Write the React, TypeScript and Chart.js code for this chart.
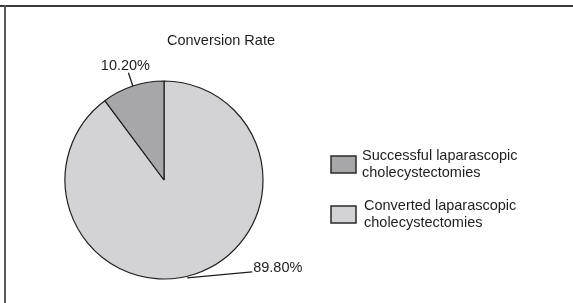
import React, { useEffect, useRef } from 'react';
import { Chart, registerables } from 'chart.js';

Chart.register(...registerables);

const title = 'Conversion Rate';
const categories = ['Converted laparascopic cholecystectomies', 'Successful laparascopic cholecystectomies'];
const values = [89.8, 10.2];
const valueLabels = ['89.80%', '10.20%'];
const legendOrder = [1, 0];
const legendLines = [
  ['Converted laparascopic', 'cholecystectomies'],
  ['Successful laparascopic', 'cholecystectomies'],
];
const sliceColors = ['#d3d3d5', '#a7a7aa'];

const FONT = '14.5px "Liberation Sans", Arial, sans-serif';
const TEXT = '#1e1e1e';

const overlay = {
  id: 'overlay',
  afterDraw(chart: any) {
    const ctx = chart.ctx as CanvasRenderingContext2D;
    ctx.save();
    // frame (top + left)
    ctx.fillStyle = '#3a3a3a';
    ctx.fillRect(0, 5, chart.width, 2);
    ctx.fillStyle = '#5a5a5a';
    ctx.fillRect(4, 5, 2, chart.height - 5);

    // title
    ctx.font = FONT;
    ctx.fillStyle = TEXT;
    ctx.textAlign = 'center';
    ctx.textBaseline = 'middle';
    ctx.fillText(title, 221, 41);

    // value labels with leader lines
    const meta = chart.getDatasetMeta(0);
    meta.data.forEach((arc: any, i: number) => {
      const { x, y, startAngle, endAngle, outerRadius } = arc.getProps(['x', 'y', 'startAngle', 'endAngle', 'outerRadius'], true);
      const mid = (startAngle + endAngle) / 2;
      const sx = x + Math.cos(mid) * outerRadius;
      const sy = y + Math.sin(mid) * outerRadius;
      let ex: number, ey: number;
      ctx.strokeStyle = '#1e1e1e';
      ctx.lineWidth = 1.3;
      if (i === 1) {
        ex = x + Math.cos(mid) * (outerRadius + 14);
        ey = y + Math.sin(mid) * (outerRadius + 14);
        ctx.beginPath();
        ctx.moveTo(sx, sy);
        ctx.lineTo(ex, ey);
        ctx.stroke();
        ctx.textAlign = 'center';
        ctx.fillText(valueLabels[i], ex - 3, ey - 7);
      } else {
        const ax = sx - 8;
        const ay = sy + 4;
        ex = ax + 65;
        ey = ay - 6;
        ctx.beginPath();
        ctx.moveTo(ax, ay);
        ctx.lineTo(ex, ey);
        ctx.stroke();
        ctx.textAlign = 'left';
        ctx.fillText(valueLabels[i], ex + 1, ey - 3.5);
      }
    });

    // legend
    const boxTops = [156, 206];
    const textX = [362, 364];
    legendOrder.forEach((idx, k) => {
      const bt = boxTops[k];
      ctx.fillStyle = sliceColors[idx];
      ctx.fillRect(331, bt, 25, 17);
      ctx.strokeStyle = '#2a2a2a';
      ctx.lineWidth = 1.5;
      ctx.strokeRect(331, bt, 25, 17);
      ctx.fillStyle = TEXT;
      ctx.textAlign = 'left';
      ctx.font = FONT;
      const lines = legendLines[idx];
      lines.forEach((ln, j) => {
        ctx.fillText(ln, textX[k], bt + j * 16.5);
      });
    });
    ctx.restore();
  },
};

export default function App() {
  const ref = useRef<HTMLCanvasElement | null>(null);
  useEffect(() => {
    if (!ref.current) return;
    const chart = new Chart(ref.current, {
      type: 'pie',
      data: {
        labels: categories,
        datasets: [
          {
            data: values,
            backgroundColor: sliceColors,
            borderColor: '#1e1e1e',
            borderWidth: 1.2,
          },
        ],
      },
      options: {
        responsive: false,
        animation: false,
        events: [],
        radius: 99,
        layout: { padding: { left: 64, right: 309, top: 80, bottom: 23 } },
        plugins: {
          legend: { display: false },
          title: { display: false },
          tooltip: { enabled: false },
        },
      } as any,
      plugins: [overlay],
    });
    return () => chart.destroy();
  }, []);
  return (
    <div style={{ position: 'fixed', left: 0, top: 0, width: 573, height: 303, background: '#fff' }}>
      <canvas ref={ref} width={573} height={303} style={{ display: 'block' }} />
    </div>
  );
}
